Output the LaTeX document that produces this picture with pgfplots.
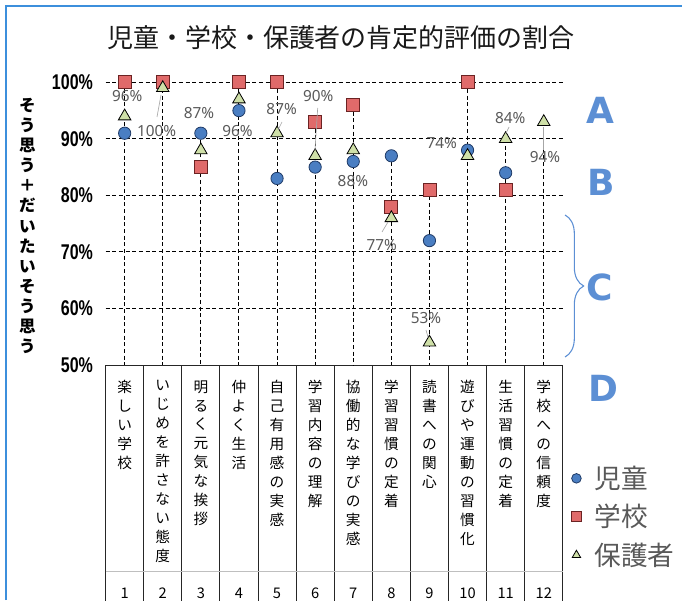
\documentclass[border=0pt]{standalone}
\usepackage{fontspec}
\usepackage{pgfplots}
\usepackage{pgfplotstable}
\pgfplotsset{compat=1.18}
\usetikzlibrary{decorations.pathreplacing}
\newfontfamily\cjk{Noto Sans CJK JP}
\newfontfamily\tickfont[FakeStretch=0.75]{Liberation Sans Bold}
\newfontfamily\lblfont{Noto Sans}
\newfontfamily\letterfont{DejaVu Sans Bold}
\definecolor{cblue}{HTML}{4A7EC2}
\definecolor{cbluedark}{HTML}{1F3A66}
\definecolor{sred}{HTML}{E06A6A}
\definecolor{sredd}{HTML}{6B2323}
\definecolor{pgreen}{HTML}{CFE0A8}
\definecolor{lblgray}{HTML}{595959}
\definecolor{leadgray}{HTML}{A6A6A6}
\definecolor{frameblue}{HTML}{3C8FDC}
\definecolor{letterblue}{HTML}{5C8FD4}

\pgfplotstableread{
x child school parent top
1 91 100 94 100
2 100 100 99 100
3 91 85 88 91
4 95 100 97 100
5 83 100 91 100
6 85 93 87 93
7 86 96 88 96
8 87 78 76 87
9 72 81 54 81
10 88 100 87 100
11 84 81 90 90
12 nan nan 93 93
}\data

\begin{document}
\begin{tikzpicture}
\path[use as bounding box] (0,0) rectangle (511.5pt,450pt);
\begin{axis}[
  at={(79.2pt,176.25pt)}, anchor=south west,
  scale only axis, width=342.9pt, height=212pt,
  xmin=0.5, xmax=12.5, ymin=50, ymax=100,
  clip=false,
  axis line style={draw=none},
  major tick length=0pt,
  ytick={50,60,...,100},
  yticklabels={50\%,60\%,70\%,80\%,90\%,100\%},
  yticklabel style={font=\tickfont\fontsize{16}{16}\selectfont, xshift=-6pt},
  ymajorgrids,
  grid style={black, dash pattern=on 3pt off 2pt, line width=0.7pt},
  xtick={1,...,12},
  xticklabels={
    {楽\\し\\い\\学\\校},
    {い\\じ\\め\\を\\許\\さ\\な\\い\\態\\度},
    {明\\る\\く\\元\\気\\な\\挨\\拶},
    {仲\\よ\\く\\生\\活},
    {自\\己\\有\\用\\感\\の\\実\\感},
    {学\\習\\内\\容\\の\\理\\解},
    {協\\働\\的\\な\\学\\び\\の\\実\\感},
    {学\\習\\習\\慣\\の\\定\\着},
    {読\\書\\へ\\の\\関\\心},
    {遊\\び\\や\\運\\動\\の\\習\\慣\\化},
    {生\\活\\習\\慣\\の\\定\\着},
    {学\\校\\へ\\の\\信\\頼\\度}},
  xticklabel style={font=\cjk\fontsize{11}{14.2}\selectfont, align=center, anchor=north, yshift=-8pt},
  legend cell align=left,
  legend image code/.code={\draw[#1, mark size=3.6pt] plot coordinates {(0.3cm,0cm)};},
  legend style={draw=none, fill=none, font=\cjk\fontsize{20}{24}\selectfont, text=lblgray,
    at={(axis cs:12.62,33.1)}, anchor=north west, row sep=6.4pt, column sep=8pt},
]
% table below the chart
\draw[black!85, line width=0.7pt] (axis cs:0.5,50) -- (axis cs:12.5,50);
\pgfplotsinvokeforeach{0.5,1.5,...,12.5}{
  \draw[black!85, line width=0.7pt] (axis cs:#1,50) -- (axis cs:#1,0);
}
\draw[black!25, line width=0.5pt] (axis cs:0.5,13.57) -- (axis cs:12.5,13.57);
\pgfplotsinvokeforeach{1,...,12}{
  \node[font=\cjk\fontsize{11}{11}\selectfont] at (axis cs:#1,9.67) {#1};
}
% drop lines
\addplot[draw=none, mark=none, forget plot,
  error bars/.cd, y dir=minus, y explicit, error mark=none,
  error bar style={black, dash pattern=on 3pt off 2pt, line width=0.7pt}]
  table[x=x, y=top, y error expr={\thisrow{top}-50}] {\data};
\addplot[only marks, mark=*, mark size=4.6pt,
  mark options={fill=cblue, draw=cbluedark, line width=0.6pt}]
  table[x=x, y=child] {\data};
\addlegendentry{児童}
\addplot[only marks, mark=square*, mark size=4.9pt,
  mark options={fill=sred, draw=sredd, line width=0.6pt}]
  table[x=x, y=school] {\data};
\addlegendentry{学校}
\addplot[only marks, mark=triangle*, mark size=5.4pt,
  mark options={fill=pgreen, draw=black, line width=0.6pt}]
  table[x=x, y=parent] {\data};
\addlegendentry{保護者}
% data labels
\begin{scope}[every node/.style={font=\lblfont\fontsize{11.5}{12}\selectfont, text=lblgray}]
\node at (axis cs:1.07,97.58) {96\%};
\node at (axis cs:1.84,91.44) {100\%};
\node at (axis cs:2.95,94.52) {87\%};
\node at (axis cs:3.96,91.44) {96\%};
\node at (axis cs:5.12,95.28) {87\%};
\node at (axis cs:6.08,97.58) {90\%};
\node at (axis cs:6.99,82.60) {88\%};
\node at (axis cs:7.75,71.22) {77\%};
\node at (axis cs:8.91,58.26) {53\%};
\node at (axis cs:9.32,89.21) {74\%};
\node at (axis cs:11.12,93.63) {84\%};
\node at (axis cs:12.03,86.84) {94\%};
\end{scope}
\end{axis}
\begin{scope}[x=0.75pt, y=-0.75pt, yshift=450pt]
  % frame
  \draw[frameblue, line width=1.1pt] (6,600) -- (6,6) -- (690,6);
  % title
  \node[font=\cjk\fontsize{19.5}{20}\selectfont, text=black!90] at (341,38) {児童・学校・保護者の肯定的評価の割合};
  % y label
  \node[font=\cjk\bfseries\fontsize{12.4}{15.1}\selectfont, align=center] at (27.5,226)
    {そ\\う\\思\\う\\＋\\だ\\い\\た\\い\\そ\\う\\思\\う};
  % leader lines
  \begin{scope}[leadgray, line width=0.5pt]
    \draw (157,117) -- (161,95);
    \draw (282,122) -- (278,130);
    \draw (317.7,108) -- (315,150);
    \draw (388,222) -- (382,232);
    \draw (426,330) -- (428,337);
    \draw (509,127) -- (506,133);
    \draw (543.5,127) -- (543.5,150);
  \end{scope}
  % grade letters
  \begin{scope}[every node/.style={font=\letterfont\fontsize{27}{27}\selectfont, text=letterblue}]
    \node at (600,110) {A};
    \node at (601,182) {B};
    \node at (600,287) {C};
    \node at (603,388) {D};
  \end{scope}
  \draw[letterblue, line width=0.8pt, decorate, decoration={brace, amplitude=14pt}] (565,215) -- (565,357);
\end{scope}
\end{tikzpicture}
\end{document}
